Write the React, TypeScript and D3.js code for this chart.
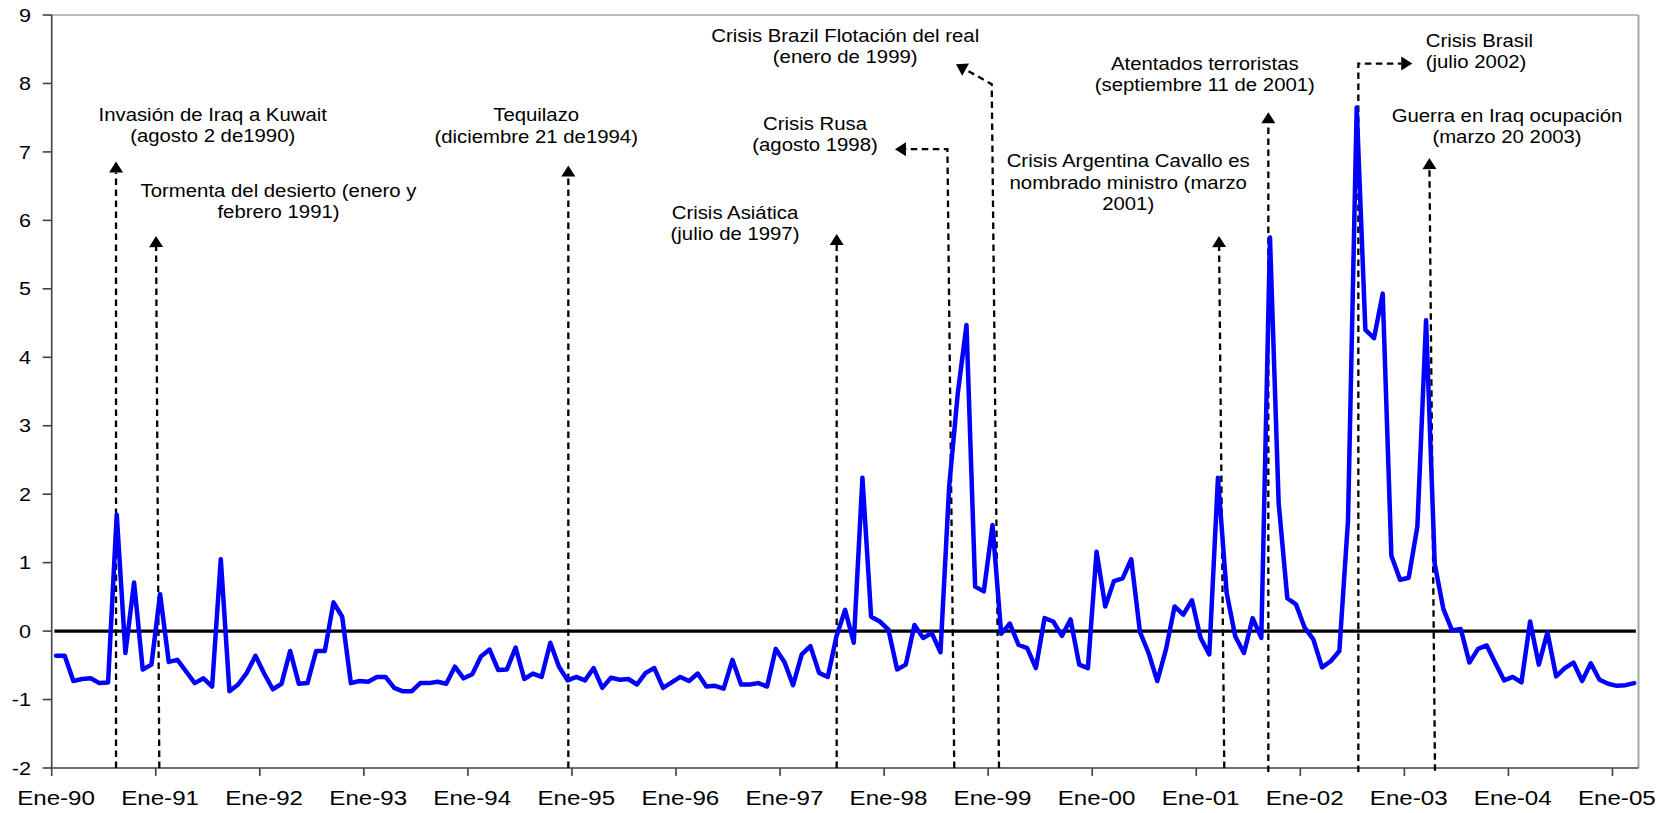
import React from 'react';
import * as d3 from 'd3';

// ---------- DATA (monthly, Jan-1990 .. Mar-2005) ----------
const v1990 = [-0.36, -0.36, -0.73, -0.70, -0.69, -0.76, -0.75, 1.70, -0.32, 0.71, -0.56, -0.49];
const v1991 = [0.54, -0.45, -0.42, -0.59, -0.76, -0.69, -0.81, 1.05, -0.88, -0.78, -0.61, -0.36];
const v1992 = [-0.62, -0.85, -0.77, -0.29, -0.77, -0.76, -0.29, -0.29, 0.42, 0.21, -0.76, -0.73];
const v1993 = [-0.74, -0.67, -0.67, -0.83, -0.88, -0.88, -0.76, -0.76, -0.74, -0.77, -0.52, -0.69];
const v1994 = [-0.63, -0.37, -0.27, -0.57, -0.56, -0.24, -0.70, -0.62, -0.67, -0.17, -0.52, -0.72];
const v1995 = [-0.67, -0.72, -0.54, -0.83, -0.68, -0.71, -0.70, -0.78, -0.61, -0.54, -0.83, -0.75];
const v1996 = [-0.67, -0.73, -0.62, -0.81, -0.80, -0.84, -0.42, -0.78, -0.78, -0.76, -0.81, -0.26];
const v1997 = [-0.45, -0.79, -0.34, -0.22, -0.61, -0.67, -0.08, 0.31, -0.17, 2.24, 0.21, 0.14];
const v1998 = [0.02, -0.56, -0.49, 0.09, -0.10, -0.03, -0.31, 2.11, 3.48, 4.47, 0.65, 0.58];
const v1999 = [1.55, -0.04, 0.11, -0.20, -0.25, -0.54, 0.19, 0.14, -0.07, 0.17, -0.49, -0.54];
const v2000 = [1.16, 0.36, 0.73, 0.77, 1.05, -0.01, -0.32, -0.73, -0.27, 0.36, 0.24, 0.45];
const v2001 = [-0.10, -0.34, 2.24, 0.56, -0.08, -0.32, 0.19, -0.10, 5.75, 1.87, 0.48, 0.39];
const v2002 = [0.05, -0.12, -0.53, -0.44, -0.29, 1.62, 7.65, 4.40, 4.28, 4.93, 1.10, 0.75];
const v2003 = [0.78, 1.53, 4.54, 0.98, 0.32, 0.01, 0.03, -0.46, -0.26, -0.21, -0.47, -0.72];
const v2004 = [-0.67, -0.75, 0.14, -0.49, -0.02, -0.66, -0.54, -0.46, -0.73, -0.47, -0.71, -0.77];
const v2005 = [-0.80, -0.79, -0.76];

const series = [
  ...v1990, ...v1991, ...v1992, ...v1993, ...v1994, ...v1995, ...v1996, ...v1997,
  ...v1998, ...v1999, ...v2000, ...v2001, ...v2002, ...v2003, ...v2004, ...v2005,
];

const xTickLabels = [
  'Ene-90', 'Ene-91', 'Ene-92', 'Ene-93', 'Ene-94', 'Ene-95', 'Ene-96', 'Ene-97',
  'Ene-98', 'Ene-99', 'Ene-00', 'Ene-01', 'Ene-02', 'Ene-03', 'Ene-04', 'Ene-05',
];
const yTickValues = [-2, -1, 0, 1, 2, 3, 4, 5, 6, 7, 8, 9];

// Annotation arrows: points in (month index, value) data space; last point is the arrow tip.
const annotations = [
  { lines: ['Invasión de Iraq a Kuwait', '(agosto 2 de1990)'], path: [[7.42, -2], [7.42, 6.86]] },
  { lines: ['Tormenta del desierto (enero y', 'febrero 1991)'], path: [[12.41, -2], [12.03, 5.77]] },
  { lines: ['Tequilazo', '(diciembre 21 de1994)'], path: [[59.58, -2], [59.58, 6.80]] },
  { lines: ['Crisis Asiática', '(julio de 1997)'], path: [[90.53, -2], [90.53, 5.80]] },
  { lines: ['Crisis Rusa', '(agosto 1998)'], path: [[104.09, -2], [103.3, 7.04], [97.25, 7.04]] },
  { lines: ['Crisis Brazil Flotación del real', '(enero de 1999)'], path: [[109.25, -2], [108.41, 7.99], [104.29, 8.28]] },
  { lines: ['Atentados terroristas', '(septiembre 11 de 2001)'], path: [[140.31, -2.06], [140.31, 7.58]] },
  { lines: ['Crisis Argentina Cavallo es', 'nombrado ministro (marzo', '2001)'], path: [[135.23, -2], [134.62, 5.77]] },
  { lines: ['Crisis Brasil', '(julio 2002)'], path: [[150.69, -2.06], [150.69, 8.29], [156.91, 8.29]] },
  { lines: ['Guerra en Iraq ocupación', '(marzo 20 2003)'], path: [[159.53, -2.04], [158.88, 6.91]] },
];

// Text layout for the annotations (pixel positions, first baseline)
const annotationText = [
  { x: 212.7, y: 120.8, anchor: 'middle' },
  { x: 278.5, y: 197.1, anchor: 'middle' },
  { x: 536.2, y: 121.4, anchor: 'middle' },
  { x: 735, y: 219, anchor: 'middle' },
  { x: 815, y: 129.5, anchor: 'middle' },
  { x: 845.2, y: 41.9, anchor: 'middle' },
  { x: 1204.8, y: 69.8, anchor: 'middle' },
  { x: 1128.2, y: 167.3, anchor: 'middle' },
  { x: 1425.7, y: 47.1, anchor: 'start' },
  { x: 1507, y: 122.2, anchor: 'middle' },
];

const FONT = '"Liberation Sans", Arial, Helvetica, sans-serif';

export default function App() {
  const left = 51.7, right = 1638.5, top = 15, bottom = 768;
  const n = series.length;
  const x = d3.scaleLinear().domain([0, n]).range([left, right]);
  const y = d3.scaleLinear().domain([-2, 9]).range([bottom, top]);

  const line = d3.line<number>().x((_, i) => x(i + 0.5)).y((d) => y(d));
  const zeroLine = d3.line<number>().x((_, i) => x(i + 0.5)).y(() => y(0));

  const lineH = 21.2;

  return (
    <svg width={1671} height={813} style={{ position: 'absolute', left: 0, top: 0, display: 'block' }} fontFamily={FONT}>
      <rect x={0} y={0} width={1671} height={813} fill="#fff" />
      {/* plot frame */}
      <line x1={left} x2={right} y1={top} y2={top} stroke="#a6a6a6" strokeWidth={1.6} />
      <line x1={right} x2={right} y1={top} y2={bottom} stroke="#a6a6a6" strokeWidth={2} />
      {/* axes */}
      <line x1={left} x2={left} y1={top} y2={bottom} stroke="#404040" strokeWidth={1.6} />
      <line x1={left} x2={right} y1={bottom} y2={bottom} stroke="#404040" strokeWidth={1.6} />
      {yTickValues.map((v) => (
        <g key={'yt' + v}>
          <line x1={left - 9} x2={left} y1={y(v)} y2={y(v)} stroke="#404040" strokeWidth={1.6} />
          <text transform={`translate(31,${y(v) + 6.6}) scale(1.2,1)`} textAnchor="end" fontSize={18} fill="#000">
            {v}
          </text>
        </g>
      ))}
      {xTickLabels.map((lab, k) => (
        <g key={'xt' + k}>
          <line x1={x(12 * k)} x2={x(12 * k)} y1={bottom} y2={bottom + 8} stroke="#404040" strokeWidth={1.6} />
          <text transform={`translate(${x(12 * k + 0.5)},805) scale(1.15,1)`} textAnchor="middle" fontSize={21} fill="#000">
            {lab}
          </text>
        </g>
      ))}
      {/* zero reference line */}
      <path d={zeroLine(series) || ''} fill="none" stroke="#000" strokeWidth={3.3} strokeLinecap="square" />
      {/* annotation arrows */}
      {annotations.map((a, k) => {
        const pts = a.path.map(([mi, v]) => [x(mi), y(v)] as [number, number]);
        const tip = pts[pts.length - 1];
        const prev = pts[pts.length - 2];
        const dx = tip[0] - prev[0], dy = tip[1] - prev[1];
        const len = Math.hypot(dx, dy);
        const ux = dx / len, uy = dy / len;
        const hl = 11, hw = 7;
        const base: [number, number] = [tip[0] - ux * hl, tip[1] - uy * hl];
        const linePts = [...pts.slice(0, -1), base];
        const d = d3.line()(linePts) || '';
        const tri = [
          tip,
          [base[0] - uy * hw, base[1] + ux * hw],
          [base[0] + uy * hw, base[1] - ux * hw],
        ];
        return (
          <g key={'a' + k}>
            <path d={d} fill="none" stroke="#000" strokeWidth={2.3} strokeDasharray="6.5 4.5" />
            <path d={'M' + tri.map((p) => p.join(',')).join('L') + 'Z'} fill="#000" />
          </g>
        );
      })}
      {/* main series */}
      <path d={line(series) || ''} fill="none" stroke="#0000ff" strokeWidth={4.5} strokeLinejoin="round" strokeLinecap="round" />
      {/* annotation texts */}
      {annotations.map((a, k) => {
        const t = annotationText[k];
        return (
          <g key={'t' + k}>
            {a.lines.map((ln, j) => (
              <text
                key={j}
                transform={`translate(${t.x},${t.y + j * lineH}) scale(1.1,1)`}
                textAnchor={t.anchor as any}
                fontSize={18.5}
                fill="#000"
              >
                {ln}
              </text>
            ))}
          </g>
        );
      })}
    </svg>
  );
}
